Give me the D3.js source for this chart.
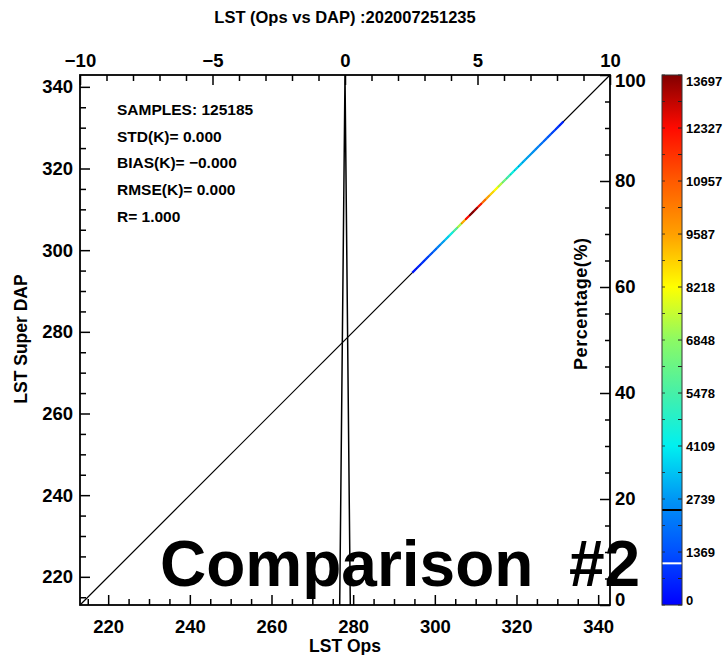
<!DOCTYPE html>
<html>
<head>
<meta charset="utf-8">
<script src="https://cdn.jsdelivr.net/npm/d3@7"></script>
<style>
  html, body { margin: 0; padding: 0; background: #fff; }
  svg { display: block; }
  text { font-family: "Liberation Sans", Arial, sans-serif; font-weight: bold; fill: #000; }
</style>
</head>
<body>
<svg id="chart" width="725" height="655"></svg>
<script>
// ---- LST scatter (Ops vs Super DAP) ----
const lstRange = [213.1, 342.9];
const lstMajorTicks = [220, 240, 260, 280, 300, 320, 340];
const lstMinorStep = 5;

// Density of matched samples along the 1:1 line (bin centre in K, count per bin)
const densityLST = [295, 296, 297, 298, 299, 300, 301, 302, 303, 304, 305, 306, 307, 308, 309, 310,
                    311, 312, 313, 314, 315, 316, 317, 318, 319, 320, 321, 322, 323, 324, 325, 326,
                    327, 328, 329, 330, 331];
const densityCount = [400, 600, 850, 1100, 1450, 1900, 2400, 2900, 3600, 4400, 5600, 7200, 9400, 12300, 13697, 13300,
                      12100, 10600, 9500, 8800, 8200, 7300, 6300, 5300, 4400, 3800, 3400, 3100, 2900, 2700, 2400, 2100,
                      1800, 1500, 1200, 900, 600];

// ---- Difference histogram (Ops - DAP, K) vs percentage ----
const diffRange = [-10, 10];
const diffMajorTicks = [-10, -5, 0, 5, 10];
const diffBins = [-0.2, 0, 0.2];
const diffPct = [0, 100, 0];
const pctRange = [0, 100];
const pctMajorTicks = [0, 20, 40, 60, 80, 100];

// ---- Statistics block ----
const statNames = ["SAMPLES:", "STD(K)=", "BIAS(K)=", "RMSE(K)=", "R="];
const statValues = ["125185", "0.000", "\u22120.000", "0.000", "1.000"];

// ---- Colour bar ----
const cbarMax = 13697;
const cbarTicks = [0, 1369, 2739, 4109, 5478, 6848, 8218, 9587, 10957, 12327, 13697];
const cbarMarkers = [2455, 1077];
const cmapPos = [0, 0.1, 0.2, 0.3, 0.4, 0.5, 0.6, 0.7, 0.8, 0.9, 1];
const cmapColors = ["#0000ff", "#0050ff", "#0096f5", "#00f0f0", "#46f0a8", "#8cfa64",
                    "#ffff00", "#ffa000", "#ff5a00", "#ff0a00", "#820000"];

const titleText = "LST (Ops vs DAP) :202007251235";
const overlayText = "Comparison  #2";

// ---------------------------------------------------------------
const svg = d3.select("#chart");
const frame = { left: 80, right: 610, top: 75, bottom: 605 };
const tickFont = 18.5;

const x = d3.scaleLinear().domain(lstRange).range([frame.left, frame.right]);
const y = d3.scaleLinear().domain(lstRange).range([frame.bottom, frame.top]);
const xTop = d3.scaleLinear().domain(diffRange).range([frame.left, frame.right]);
const yRight = d3.scaleLinear().domain(pctRange).range([frame.bottom, frame.top]);

const color = d3.scaleLinear()
  .domain(cmapPos.map(p => p * cbarMax))
  .range(cmapColors)
  .interpolate(d3.interpolateRgb)
  .clamp(true);

const fmtTick = d => (d < 0 ? "\u2212" + Math.abs(d) : String(d));

function styleAxis(g, fontSize) {
  g.attr("font-size", null).attr("font-family", null);
  g.select(".domain").remove();
  g.selectAll(".tick line").attr("stroke", "#000").attr("stroke-width", 1.5);
  g.selectAll(".tick text").style("font-size", fontSize + "px");
  return g;
}

function minorTicks(domain, step, majors) {
  const start = Math.ceil(domain[0] / step) * step;
  return d3.range(start, domain[1] + 1e-9, step).filter(v => !majors.includes(v));
}

// keeps labels of the end ticks inside the vertical extent of the frame
const clampOffset = (scale) => d => {
  const p = scale(d);
  return Math.min(Math.max(p, frame.top + 6), frame.bottom - 5) - p;
};

// Left axis (LST Super DAP)
styleAxis(svg.append("g").attr("transform", `translate(${frame.left},0)`)
  .call(d3.axisLeft(y).tickValues(lstMajorTicks).tickSize(-10).tickSizeOuter(0).tickPadding(7).tickFormat(fmtTick)), tickFont);
styleAxis(svg.append("g").attr("transform", `translate(${frame.left},0)`)
  .call(d3.axisLeft(y).tickValues(minorTicks(lstRange, lstMinorStep, lstMajorTicks)).tickSize(-6).tickSizeOuter(0).tickFormat("")), tickFont);

// Bottom axis (LST Ops)
styleAxis(svg.append("g").attr("transform", `translate(0,${frame.bottom})`)
  .call(d3.axisBottom(x).tickValues(lstMajorTicks).tickSize(-10).tickSizeOuter(0).tickPadding(15).tickFormat(fmtTick)), tickFont);
styleAxis(svg.append("g").attr("transform", `translate(0,${frame.bottom})`)
  .call(d3.axisBottom(x).tickValues(minorTicks(lstRange, lstMinorStep, lstMajorTicks)).tickSize(-6).tickSizeOuter(0).tickFormat("")), tickFont);

// Top axis (difference, K)
styleAxis(svg.append("g").attr("transform", `translate(0,${frame.top})`)
  .call(d3.axisTop(xTop).tickValues(diffMajorTicks).tickSize(-10).tickSizeOuter(0).tickPadding(8).tickFormat(fmtTick)), tickFont);
styleAxis(svg.append("g").attr("transform", `translate(0,${frame.top})`)
  .call(d3.axisTop(xTop).tickValues(minorTicks(diffRange, 1, diffMajorTicks)).tickSize(-6).tickSizeOuter(0).tickFormat("")), tickFont);

// Right axis (percentage)
const rightAxis = styleAxis(svg.append("g").attr("transform", `translate(${frame.right},0)`)
  .call(d3.axisRight(yRight).tickValues(pctMajorTicks).tickSize(-10).tickSizeOuter(0).tickPadding(5).tickFormat(fmtTick)), tickFont);
rightAxis.selectAll(".tick text").attr("y", clampOffset(yRight));
styleAxis(svg.append("g").attr("transform", `translate(${frame.right},0)`)
  .call(d3.axisRight(yRight).tickValues(minorTicks(pctRange, 5, pctMajorTicks)).tickSize(-5).tickSizeOuter(0).tickFormat("")), tickFont);

// Frame
svg.append("rect")
  .attr("x", frame.left).attr("y", frame.top)
  .attr("width", frame.right - frame.left).attr("height", frame.bottom - frame.top)
  .attr("fill", "none").attr("stroke", "#000").attr("stroke-width", 1.8);

// 1:1 reference line
svg.append("line")
  .attr("x1", x(lstRange[0])).attr("y1", y(lstRange[0]))
  .attr("x2", x(lstRange[1])).attr("y2", y(lstRange[1]))
  .attr("stroke", "#000").attr("stroke-width", 1.2);

// Difference histogram
svg.append("path")
  .datum(diffBins.map((b, i) => ({ bin: b, pct: diffPct[i] })))
  .attr("fill", "none").attr("stroke", "#000").attr("stroke-width", 1.5)
  .attr("stroke-linejoin", "miter")
  .attr("d", d3.line().x(d => xTop(d.bin)).y(d => yRight(d.pct)));

// Density-coloured samples along the 1:1 line
const binHalf = 0.5;
svg.append("g").selectAll("line")
  .data(densityLST.map((t, i) => ({ t, c: densityCount[i] })))
  .join("line")
  .attr("x1", d => x(d.t - binHalf)).attr("y1", d => y(d.t - binHalf))
  .attr("x2", d => x(d.t + binHalf)).attr("y2", d => y(d.t + binHalf))
  .attr("stroke", d => color(d.c))
  .attr("stroke-width", 2.2);

// Statistics text
const statG = svg.append("g").attr("transform", "translate(117,115)");
statG.selectAll("text")
  .data(statNames.map((n, i) => n + " " + statValues[i]))
  .join("text")
  .attr("y", (d, i) => i * 26.7)
  .style("font-size", "15.5px")
  .text(d => d);

// Titles
svg.append("text")
  .attr("x", 345).attr("y", 23)
  .attr("text-anchor", "middle")
  .style("font-size", "16.5px")
  .text(titleText);

svg.append("text")
  .attr("x", 345).attr("y", 652)
  .attr("text-anchor", "middle")
  .style("font-size", "17.5px")
  .text("LST Ops");

svg.append("text")
  .attr("transform", "translate(27,339) rotate(-90)")
  .attr("text-anchor", "middle")
  .style("font-size", "17.5px")
  .text("LST Super DAP");

svg.append("text")
  .attr("transform", "translate(587,304) rotate(-90)")
  .attr("text-anchor", "middle")
  .attr("textLength", 132)
  .attr("lengthAdjust", "spacing")
  .style("font-size", "18px")
  .text("Percentage(%)");

// Colour bar
const cbar = { x: 662, width: 20 };
const yCbar = d3.scaleLinear().domain([0, cbarMax]).range([frame.bottom, frame.top]);

const grad = svg.append("defs").append("linearGradient")
  .attr("id", "cbarGrad")
  .attr("x1", 0).attr("y1", 1).attr("x2", 0).attr("y2", 0);
grad.selectAll("stop")
  .data(cmapPos)
  .join("stop")
  .attr("offset", d => d)
  .attr("stop-color", (d, i) => cmapColors[i]);

svg.append("rect")
  .attr("x", cbar.x).attr("y", yCbar(cbarMax))
  .attr("width", cbar.width).attr("height", yCbar(0) - yCbar(cbarMax))
  .attr("fill", "url(#cbarGrad)");

// small ticks on the bar edges (labelled values and midpoints)
const cbarAllTicks = cbarTicks.concat(d3.pairs(cbarTicks).map(([a, b]) => (a + b) / 2));
const cbarTickG = svg.append("g");
cbarTickG.selectAll("line.r")
  .data(cbarAllTicks)
  .join("line")
  .attr("class", "r")
  .attr("x1", cbar.x + cbar.width - 4).attr("x2", cbar.x + cbar.width)
  .attr("y1", d => yCbar(d)).attr("y2", d => yCbar(d))
  .attr("stroke", "#222").attr("stroke-width", 1);
cbarTickG.selectAll("line.l")
  .data(cbarAllTicks)
  .join("line")
  .attr("class", "l")
  .attr("x1", cbar.x).attr("x2", cbar.x + 3)
  .attr("y1", d => yCbar(d)).attr("y2", d => yCbar(d))
  .attr("stroke", "#222").attr("stroke-width", 0.8);

// reference markers on the bar
svg.append("g").selectAll("line")
  .data(cbarMarkers)
  .join("line")
  .attr("x1", cbar.x).attr("x2", cbar.x + cbar.width)
  .attr("y1", d => yCbar(d)).attr("y2", d => yCbar(d))
  .attr("stroke", (d, i) => (i === 0 ? "#000" : "#fff"))
  .attr("stroke-width", 2);

svg.append("rect")
  .attr("x", cbar.x).attr("y", yCbar(cbarMax))
  .attr("width", cbar.width).attr("height", yCbar(0) - yCbar(cbarMax))
  .attr("fill", "none").attr("stroke", "#333").attr("stroke-width", 1);

const cbarOffset = clampOffset(yCbar);
svg.append("g").selectAll("text")
  .data(cbarTicks)
  .join("text")
  .attr("x", cbar.x + cbar.width + 4)
  .attr("y", d => yCbar(d) + cbarOffset(d))
  .attr("dy", "0.36em")
  .style("font-size", "13px")
  .text(d => String(d));

// Overlay label
svg.append("text")
  .attr("x", 160).attr("y", 586)
  .style("font-size", "64px")
  .style("white-space", "pre")
  .text(overlayText);
</script>
</body>
</html>
